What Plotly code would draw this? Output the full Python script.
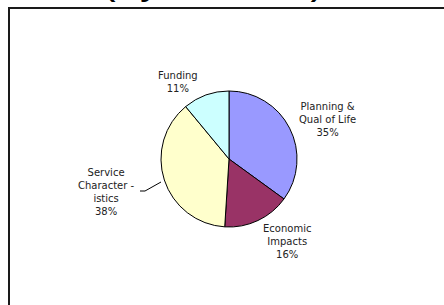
import plotly.graph_objects as go

W, H = 444, 305

# Data
categories = ["Planning &<br>Qual of Life", "Economic<br>Impacts",
              "Service<br>Character -<br>istics", "Funding"]
values = [35, 16, 38, 11]
colors = ["#9999FF", "#993366", "#FFFFCC", "#CCFFFF"]
title_text = "(by Theme)"

def px(x):
    return x / W

def py(y):
    return 1 - y / H

cx, cy, r = 229, 159, 68

fig = go.Figure(go.Pie(
    labels=categories,
    values=values,
    sort=False,
    direction="clockwise",
    rotation=0,
    marker=dict(colors=colors, line=dict(color="#000000", width=1)),
    textinfo="none",
    hoverinfo="label+percent",
    domain=dict(x=[px(cx - r), px(cx + r)], y=[py(cy + r), py(cy - r)]),
    showlegend=False,
))

# label positions (pixel centres)
label_pos = [(327, 119), (287, 241.5), (106, 192), (178, 81.5)]
total = sum(values)
for name, v, (lx, ly) in zip(categories, values, label_pos):
    fig.add_annotation(
        x=px(lx), y=py(ly), xref="paper", yref="paper",
        text=f"{name}<br>{round(100 * v / total)}%",
        showarrow=False, xanchor="center", yanchor="middle",
        font=dict(family="DejaVu Sans", size=10, color="#222222"),
        align="center",
    )

# leader line for Service Characteristics
fig.add_shape(type="path", xref="paper", yref="paper",
              path=f"M {px(140)} {py(191)} L {px(145)} {py(191)} L {px(161)} {py(182)}",
              line=dict(color="#000000", width=1))

# chart frame (extends past right/bottom edges)
fig.add_shape(type="rect", xref="paper", yref="paper",
              x0=px(9), y0=py(8), x1=1.2, y1=-0.2,
              line=dict(color="#1a1a1a", width=2), layer="below")

# clipped title at top
fig.add_annotation(x=px(213), y=py(3.8), xref="paper", yref="paper",
                   text=title_text, showarrow=False,
                   xanchor="center", yanchor="bottom",
                   font=dict(family="Liberation Sans", size=44, color="#000000"))

fig.update_layout(
    width=W, height=H,
    margin=dict(l=0, r=0, t=0, b=0),
    paper_bgcolor="white", plot_bgcolor="white",
)

fig.write_html("out.html", config={"displayModeBar": False})

with open("out.html", "r", encoding="utf-8") as f:
    html = f.read()
html = html.replace("<body>", '<body style="margin:0;overflow:hidden">', 1)
with open("out.html", "w", encoding="utf-8") as f:
    f.write(html)
